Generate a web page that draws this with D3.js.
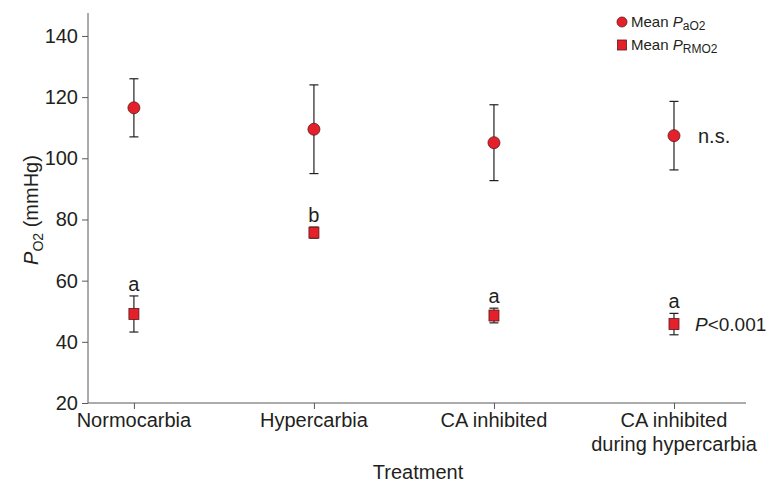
<!DOCTYPE html>
<html>
<head>
<meta charset="utf-8">
<script src="https://cdn.jsdelivr.net/npm/d3@7"></script>
<style>
  body { margin: 0; background: #fff; }
  text { font-family: "Liberation Sans", Arial, sans-serif; fill: #231f20; }
</style>
</head>
<body>
<svg id="chart" width="769" height="489"></svg>
<script>
// treatments along the x axis
const categories = ["Normocarbia", "Hypercarbia", "CA inhibited", "CA inhibited|during hypercarbia"]

// mean arterial PO2 and its error
const paO2Mean = [116.5, 109.5, 105.1, 107.4]
const paO2Err = [9.5, 14.5, 12.4, 11.2]

// mean red muscle PO2 and its error
const prmo2Mean = [49.1, 75.7, 48.6, 45.8]
const prmo2Err = [5.9, 1.8, 2.4, 3.5]

// significance letters above the squares
const letters = ["a", "b", "a", "a"]

const yTicks = [20, 40, 60, 80, 100, 120, 140]

const svg = d3.select("#chart")
const red = "#e5202a"
const ink = "#231f20"
const axisCol = "#58595b"

const x = d3.scaleLinear().domain([-0.255, 3.4]).range([88, 746])
const y = d3.scaleLinear().domain([20, 147.5]).range([403, 13])

// y axis
const gy = svg.append("g")
    .attr("transform", "translate(88,0)")
    .call(d3.axisLeft(y).tickValues(yTicks).tickSize(6).tickPadding(4))
gy.select(".domain").attr("d", "M0," + y(147.5) + "V" + y(20))
gy.selectAll("line, path").attr("stroke", axisCol)
gy.selectAll("text").attr("font-size", 20).attr("fill", ink)
    .attr("font-family", "Liberation Sans, Arial, sans-serif")

// x axis
const gx = svg.append("g")
    .attr("transform", "translate(0,403)")
    .call(d3.axisBottom(x).tickValues([0, 1, 2, 3]).tickSize(6).tickFormat(""))
gx.select(".domain").attr("d", "M88,0H746")
gx.selectAll("line, path").attr("stroke", axisCol)

// category labels, some on two lines
categories.forEach((c, i) => {
    const t = svg.append("text")
        .attr("x", x(i))
        .attr("y", 427)
        .attr("text-anchor", "middle")
        .attr("font-size", 20)
    c.split("|").forEach((line, j) => {
        t.append("tspan").attr("x", x(i)).attr("dy", j ? 24 : 0).text(line)
    })
})

svg.append("text")
    .attr("x", 418)
    .attr("y", 479)
    .attr("text-anchor", "middle")
    .attr("font-size", 20)
    .text("Treatment")

// y label: P with subscript O2
const yl = svg.append("text")
    .attr("transform", "translate(38,210) rotate(-90)")
    .attr("text-anchor", "middle")
    .attr("font-size", 20)
yl.append("tspan").attr("font-style", "italic").text("P")
yl.append("tspan").attr("font-size", 14).attr("dy", 5).text("O2")
yl.append("tspan").attr("dy", -5).text(" (mmHg)")

// error bars
function errorBars (means, errs) {
    const g = svg.append("g").attr("stroke", ink).attr("stroke-width", 1.2)
    means.forEach((m, i) => {
        const cx = x(i)
        g.append("line").attr("x1", cx).attr("x2", cx).attr("y1", y(m + errs[i])).attr("y2", y(m - errs[i]))
        g.append("line").attr("x1", cx - 4.5).attr("x2", cx + 4.5).attr("y1", y(m + errs[i])).attr("y2", y(m + errs[i]))
        g.append("line").attr("x1", cx - 4.5).attr("x2", cx + 4.5).attr("y1", y(m - errs[i])).attr("y2", y(m - errs[i]))
    })
}
errorBars(paO2Mean, paO2Err)
errorBars(prmo2Mean, prmo2Err)

svg.selectAll(".pa")
    .data(paO2Mean)
    .enter().append("circle")
    .attr("class", "pa")
    .attr("cx", (d, i) => x(i))
    .attr("cy", d => y(d))
    .attr("r", 6)
    .attr("fill", red)
    .attr("stroke", "#5a1a1a")
    .attr("stroke-width", 0.8)

svg.selectAll(".rm")
    .data(prmo2Mean)
    .enter().append("rect")
    .attr("class", "rm")
    .attr("x", (d, i) => x(i) - 5)
    .attr("y", d => y(d) - 5.5)
    .attr("width", 10)
    .attr("height", 11)
    .attr("fill", red)
    .attr("stroke", "#5a1a1a")
    .attr("stroke-width", 0.8)

svg.selectAll(".letter")
    .data(letters)
    .enter().append("text")
    .attr("class", "letter")
    .attr("x", (d, i) => x(i))
    .attr("y", (d, i) => y(prmo2Mean[i] + prmo2Err[i]) - 5)
    .attr("text-anchor", "middle")
    .attr("font-size", 20)
    .text(d => d)

// annotations at the right
svg.append("text")
    .attr("x", x(3) + 24)
    .attr("y", y(paO2Mean[3]) + 7)
    .attr("font-size", 20)
    .text("n.s.")

const pt = svg.append("text")
    .attr("x", x(3) + 21)
    .attr("y", y(prmo2Mean[3]) + 7)
    .attr("font-size", 19)
pt.append("tspan").attr("font-style", "italic").text("P")
pt.append("tspan").text("<0.001")

// legend
const legend = svg.append("g").attr("transform", "translate(622,0)")
legend.append("circle").attr("cx", 0).attr("cy", 22).attr("r", 5)
    .attr("fill", red).attr("stroke", "#5a1a1a").attr("stroke-width", 0.8)
legend.append("rect").attr("x", -4.5).attr("y", 40).attr("width", 9).attr("height", 10)
    .attr("fill", red).attr("stroke", "#5a1a1a").attr("stroke-width", 0.8)

const l1 = legend.append("text").attr("x", 9).attr("y", 27).attr("font-size", 15)
l1.append("tspan").text("Mean ")
l1.append("tspan").attr("font-style", "italic").text("P")
l1.append("tspan").attr("font-size", 12).attr("dy", 3).text("aO2")

const l2 = legend.append("text").attr("x", 9).attr("y", 50).attr("font-size", 15)
l2.append("tspan").text("Mean ")
l2.append("tspan").attr("font-style", "italic").text("P")
l2.append("tspan").attr("font-size", 12).attr("dy", 3).text("RMO2")
</script>
</body>
</html>
